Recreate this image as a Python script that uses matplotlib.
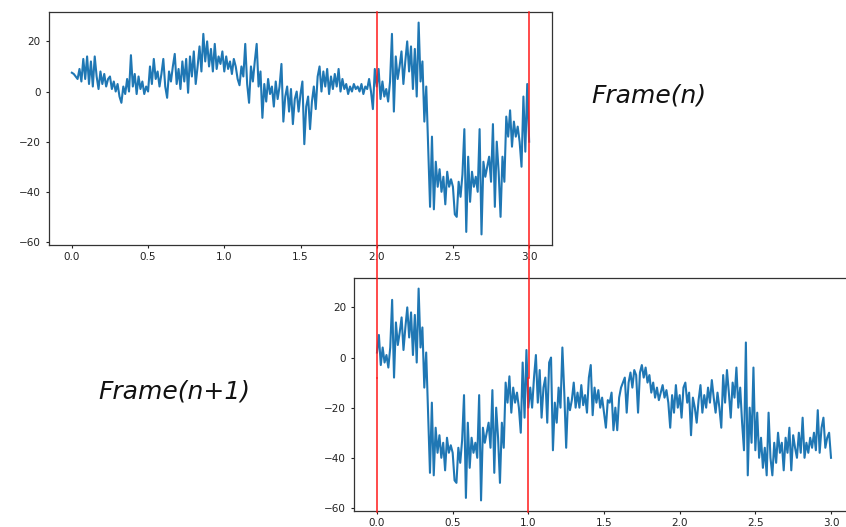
import numpy as np
import matplotlib
matplotlib.use("Agg")
import matplotlib.pyplot as plt
from matplotlib.lines import Line2D

# Samples per second of signal (80 per unit on the x axis)
rate = 80

# Frame(n) only part: t = 0 .. 2 (exclusive)
seg_a = [
    7.5, 7, 6, 5, 9, 4, 13, 5, 14, 3,
    12, 2, 14, 6, 1, 8, 3, 7, 2, 5,
    6, 1, 4, 0, 3, -2, -4.5, 2, -1, 5,
    0, 14.5, 2, 7, -1, 6, 1, 4, -1, 2,
    0, 10, 3, 13, 5, 8, 2, 7, 13, 2,
    -2.5, 8, 4, 10, 15, 3, 9, 1, 12, 4,
    13, -0.5, 14, 6, 16, 3, 10, 18, 8, 23,
    12, 20, 10, 17, 8, 19, 9, 14, 11, 16,
    8, 14, 9, 12, 7, 13, 10, 5, 2.5, 10,
    6, 19, 3, -4.5, 10, 4, 12, 19, 2, 8,
    -10.5, 3, -4, 5, -1, 2, -6, 4, -3, 2,
    11, -12, -2, 2, -8, 1, -13, -3, 0, -8,
    -1, 4, -21, -6, -2, -15, -4, 2, -7, 6,
    10, 0, 8, 2, 9, -1, 6, 1, 7, 2,
    9, 0, 5, 1, 3, -1, 2, 0, 3, 1,
    2, 0, 3, -1, 2, 1, 5, 0, -7, 9,
]

# Overlap shared by both frames: t = 2 .. 3 of Frame(n) == t = 0 .. 1 of Frame(n+1)
seg_b = [
    2, 9, -3, 4, -2, 1, -4, 4, 23, -8,
    14, 5, 10, 16, 3, 12, 20, 8, 18, 1,
    17, -2, 27.5, 4, 12, -12, 2, -22, -46, -18,
    -47, -28, -38, -31, -40, -34, -45, -32, -38, -35,
    -38, -49, -50, -36, -42, -33, -15, -56, -26, -44,
    -32, -38, -34, -40, -15, -57, -28, -34, -30, -26,
    -36, -13, -46, -20, -32, -50, -26, -36, -10, -18,
    -7.5, -22, -12, -18, -14, -20, -30, -2, -24, 3,
    -20,
]

# Frame(n+1) only part: t = 1 .. 3 (after the overlap)
seg_c = [
    -12, -20, -8, 1, -18, -5, -24, -12, -8, -26,
    -2, 0, -37, -18, -26, -12, -20, 4, -14, -36,
    -16, -21, -17, -10, -20, -14, -20, -11, -19, -15,
    -22, -8, -3, -23, -12, -18, -13, -20, -16, -22,
    -28, -17, -18, -14, -29, -20, -29, -16, -12, -10,
    -8, -22, -10, -6, -12, -5, -7, -22, -6, -3,
    -8, -4, -10, -7, -14, -10, -16, -12, -17, -14,
    -11, -16, -13, -18, -28, -15, -22, -11, -20, -15,
    -24, -12, -10, -18, -14, -31, -16, -20, -26, -17,
    -11, -22, -15, -20, -12, -18, -9, -16, -22, -14,
    -20, -28, -7, -18, -5, -14, -24, -10, -16, -4,
    -20, -12, -26, -37, 6, -47, -20, -34, -4, -37,
    -22, -40, -32, -44, -36, -47, -22, -40, -47, -34,
    -42, -30, -38, -34, -45, -32, -38, -28, -45, -31,
    -36, -40, -30, -38, -24, -40, -34, -38, -32, -36,
    -30, -37, -21, -38, -28, -24, -36, -32, -30, -40,
]

frame_n = np.array(seg_a + seg_b, dtype=float)
frame_n1 = np.array(seg_b + seg_c, dtype=float)
t_n = np.arange(len(frame_n)) / rate
t_n1 = np.arange(len(frame_n1)) / rate

labels = ["Frame(n)", "Frame(n+1)"]
cut_times = [2.0, 3.0]  # positions (in Frame(n) time) of the red markers

W, H = 846, 527
fig = plt.figure(figsize=(W / 100, H / 100), dpi=100)

def px_rect(l, r, t, b):
    return [l / W, 1 - b / H, (r - l) / W, (b - t) / H]

ax1 = fig.add_axes(px_rect(49, 552, 12, 245))
ax2 = fig.add_axes(px_rect(354.3, 853.7, 278, 511))

blue = "#1f77b4"
for ax, t, y in [(ax1, t_n, frame_n), (ax2, t_n1, frame_n1)]:
    ax.plot(t, y, color=blue, lw=1.5)
    ax.set_xticks([0.0, 0.5, 1.0, 1.5, 2.0, 2.5, 3.0])
    ax.set_yticks([-60, -40, -20, 0, 20])
    ax.tick_params(labelsize=7.5, length=2.5, width=0.8, colors="#222222")
    ax.tick_params(axis="x", pad=2.5)
    for s in ax.spines.values():
        s.set_linewidth(0.9)
        s.set_color("#333333")

# red markers drawn across both axes in figure coordinates
def data_to_fig_x(ax, xv):
    disp = ax.transData.transform((xv, 0))
    return fig.transFigure.inverted().transform(disp)[0]

fig.canvas.draw()
red = "#ff1a1a"
for xv in cut_times:
    xf = data_to_fig_x(ax1, xv)
    y_top = 1 - 12 / H
    y_mid = 1 - 378 / H
    y_bot = 1 - 512 / H
    fig.add_artist(Line2D([xf, xf], [y_top, y_mid], color=red, lw=1.1))
    xf2 = data_to_fig_x(ax2, xv - 2.0)
    fig.add_artist(Line2D([xf2, xf2], [y_mid, y_bot], color=red, lw=1.1))

fig.text(649 / W, 1 - 95 / H, labels[0], fontsize=18, style="italic",
         ha="center", va="center", color="#111111")
fig.text(174 / W, 1 - 392 / H, labels[1], fontsize=18, style="italic",
         ha="center", va="center", color="#111111")

fig.savefig("out.png", dpi=100)
